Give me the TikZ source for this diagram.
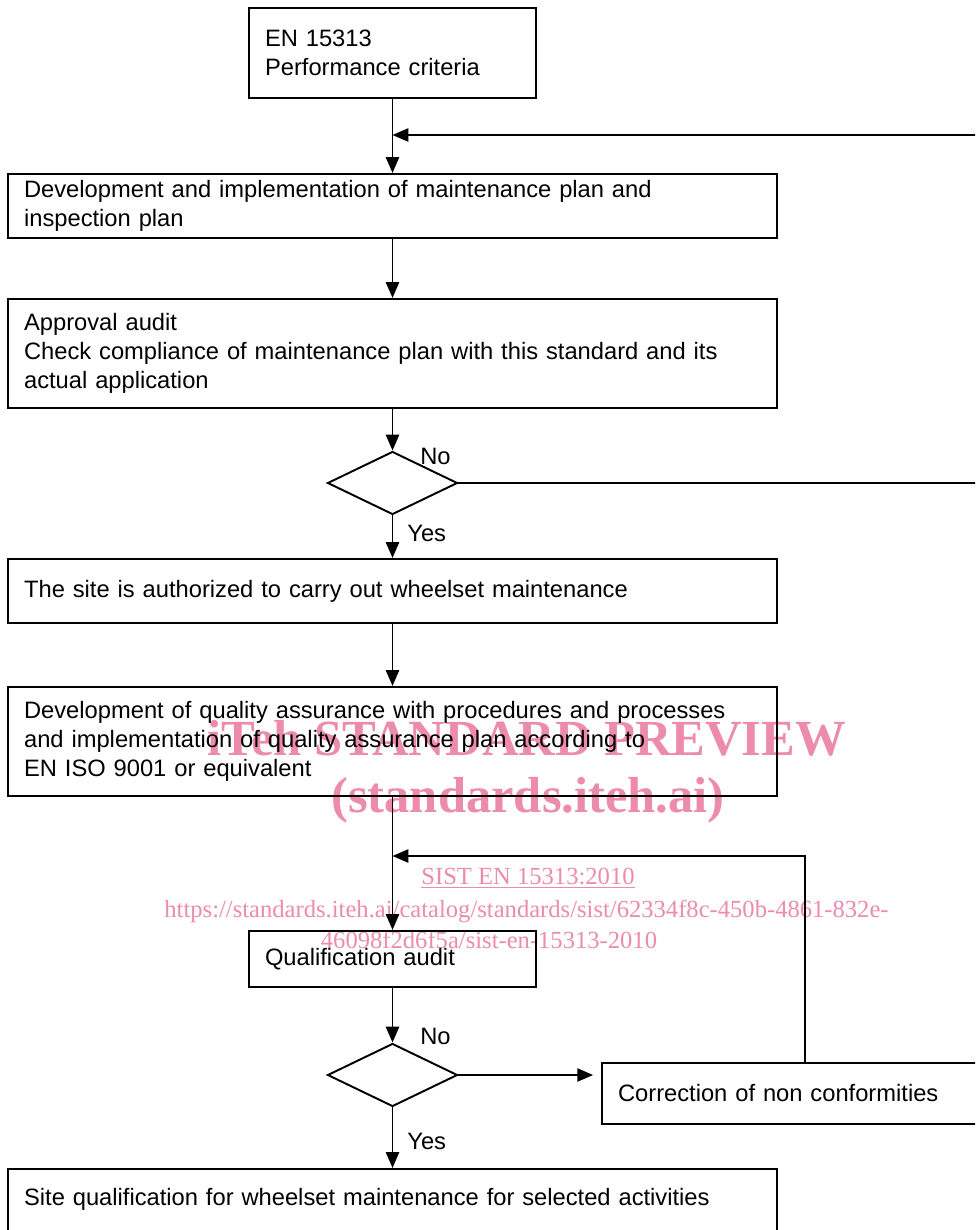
\documentclass[tikz,border=0pt]{standalone}
\usepackage{fontspec}
\setmainfont{Liberation Sans}
\newfontfamily\wmfont{Liberation Serif}
\usetikzlibrary{arrows.meta, positioning, shapes.geometric, calc}
\definecolor{wmpink}{RGB}{236,140,170}

\begin{document}
\begin{tikzpicture}[
    x=0.02cm, y=-0.02cm,
    widebox/.style={rectangle, draw=black, line width=1.2pt, text width=14.74cm, inner xsep=0.32cm, inner ysep=0pt, align=left, font=\fontsize{13.5}{16.4}\selectfont},
    smallbox/.style={widebox, text width=5.1cm},
    decision/.style={diamond, draw=black, line width=1.1pt, minimum width=2.6cm, minimum height=1.26cm, inner sep=0pt},
    answer/.style={anchor=west, inner sep=0pt, font=\fontsize{13.5}{16}\selectfont},
    arrow/.style={-{Triangle[length=9pt, width=7.5pt]}, line width=1.1pt},
    wmbig/.style={text=wmpink, font=\wmfont\bfseries\fontsize{28.8}{30}\selectfont},
    wmsmall/.style={text=wmpink, font=\wmfont\fontsize{14}{16}\selectfont}
]
\useasboundingbox (0,0) rectangle (975,1230);
\clip (0,0) rectangle (975,1230);

% =================== WATERMARK ===================
\node[wmbig] (wmtitle) at (527,738) {iTeh STANDARD PREVIEW};
\node[wmbig] (wmsite) at (528,800) {(standards.iteh.ai)};
\node[wmsmall] (wmsist) at (528,878) {\underline{SIST EN 15313:2010}};
\node[wmsmall] (wmurl) at (526.5,911) {https://standards.iteh.ai/catalog/standards/sist/62334f8c-450b-4861-832e-};
\node[wmsmall] (wmurltail) at (489,940) {46098f2d6f5a/sist-en-15313-2010};

% =================== APPROVAL PART ===================
\node[smallbox, minimum height=1.8cm] (crit) at (392.5,53) {EN 15313\\Performance criteria};

\node[widebox, minimum height=1.28cm] (devplan) at (392.5,206)
    {Development and implementation of maintenance plan and\\inspection plan};

\node[widebox, minimum height=2.18cm] (approval) at (392.5,353.5)
    {Approval audit\\Check compliance of maintenance plan with this standard and its\\actual application};

\node[decision] (check1) at (392.5,483) {};
\node[answer] (no1) at (420,456) {No};
\node[answer] (yes1) at (407,533) {Yes};

\node[widebox, minimum height=1.28cm] (authorized) at (392.5,591)
    {The site is authorized to carry out wheelset maintenance};

% feedback from "No" back to the plan
\coordinate (back1) at (392.5,135);
\coordinate (turn1) at (1010,483);

\draw[arrow] (crit) -- (devplan);
\draw[arrow] (devplan) -- (approval);
\draw[arrow] (approval) -- (check1);
\draw[arrow] (check1) -- (authorized);
\draw[arrow] (check1.east) -- (turn1) |- (back1);

% =================== QUALIFICATION PART ===================
\node[widebox, minimum height=2.18cm] (quality) at (392.5,741.5)
    {Development of quality assurance with procedures and processes\\and implementation of quality assurance plan according to\\EN ISO 9001 or equivalent};

\node[smallbox, minimum height=1.12cm] (qualaudit) at (392.5,959) {Qualification audit};

\node[decision] (check2) at (392.5,1075) {};
\node[answer] (no2) at (420,1036) {No};
\node[answer] (yes2) at (407,1141) {Yes};

\node[smallbox, text width=7.48cm, minimum height=1.22cm] (correction) at (805,1093.5)
    {Correction of non conformities};

\node[widebox, minimum height=1.68cm] (sitequal) at (392.5,1211)
    {Site qualification for wheelset maintenance for selected activities\\\mbox{}};

\coordinate (back2) at (392.5,856);

\draw[arrow] (authorized) -- (quality);
\draw[arrow] (quality) -- (qualaudit);
\draw[arrow] (qualaudit) -- (check2);
\draw[arrow] (check2) -- (sitequal);
\draw[arrow, shorten >=4.5pt] (check2.east) -- (check2.east -| correction.west);
\draw[arrow] (correction.north) |- (back2);

\end{tikzpicture}
\end{document}
